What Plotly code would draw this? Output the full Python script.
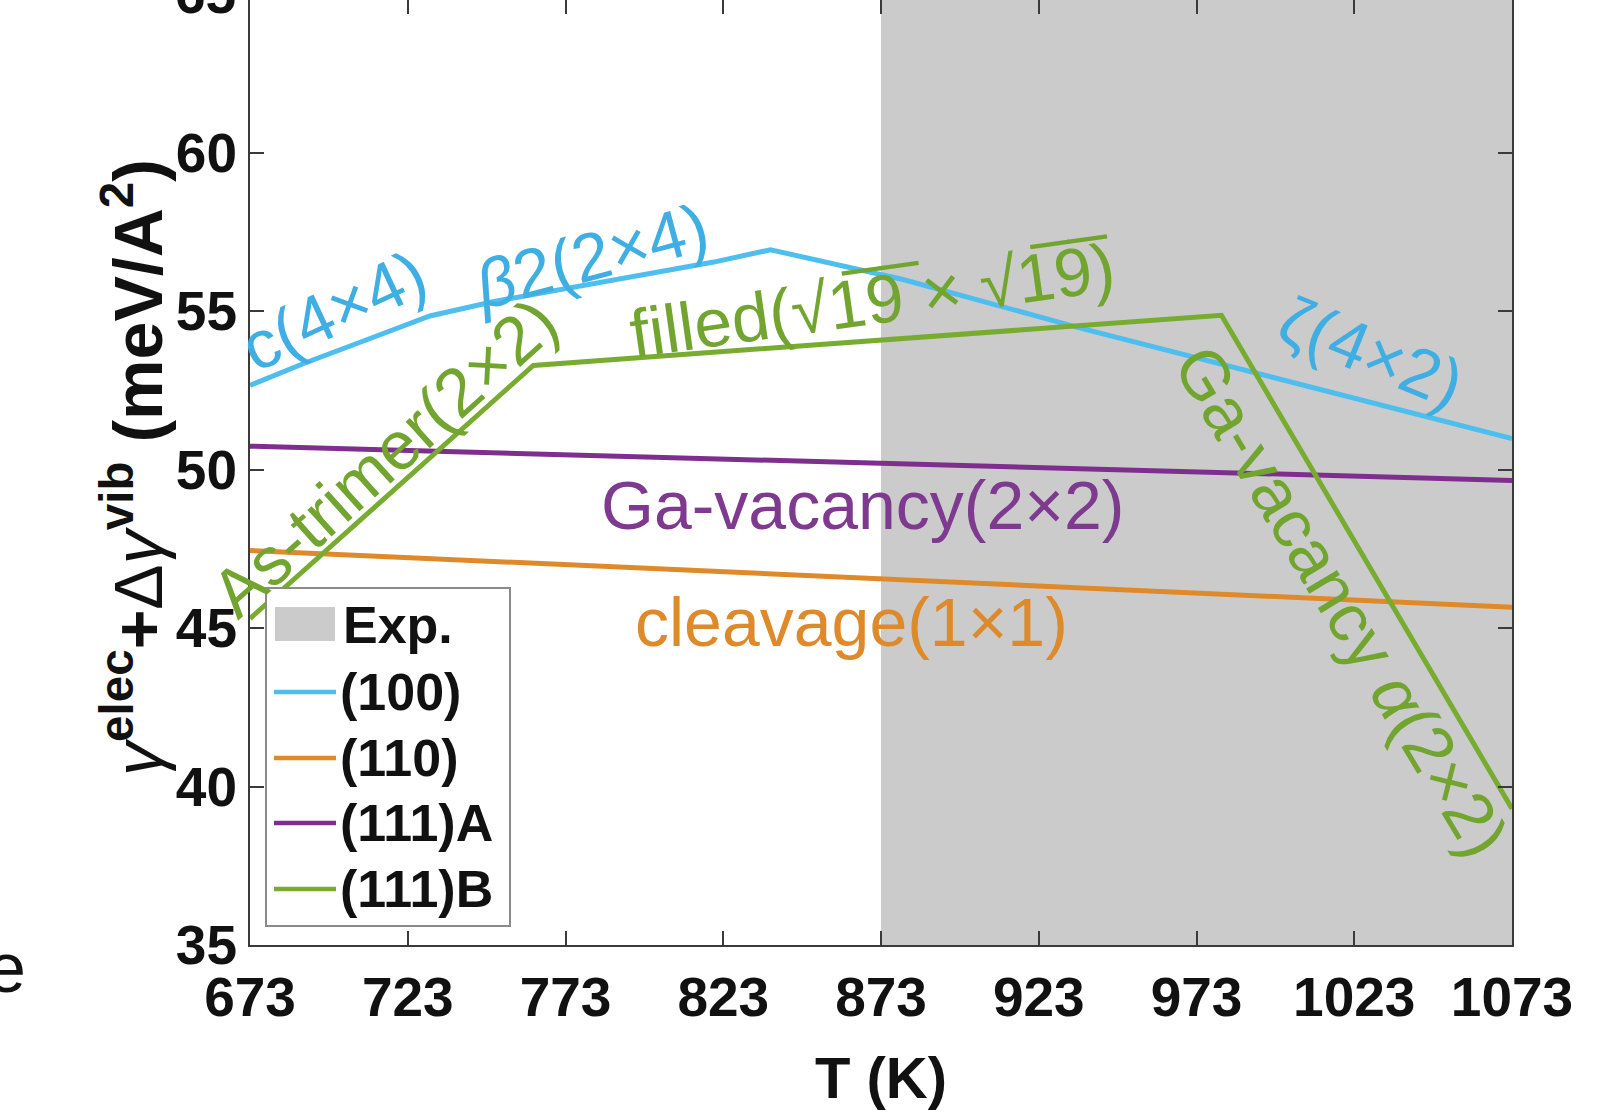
import plotly.graph_objects as go

# ---------------- data ----------------
T_100 = [673, 690, 710, 730, 750, 775, 800, 820, 838, 880, 935, 1073]
G_100 = [52.66, 53.35, 54.1, 54.85, 55.3, 55.75, 56.2, 56.55, 56.94, 56.0, 54.5, 50.98]

T_110 = [673, 1073]
G_110 = [47.45, 45.66]

T_111A = [673, 1073]
G_111A = [50.74, 49.66]

T_111B = [673, 762.8, 980.9, 1073]
G_111B = [45.3, 53.29, 54.87, 39.3]

EXP_RANGE = [873, 1073]

X_TICKS = [673, 723, 773, 823, 873, 923, 973, 1023, 1073]
Y_TICKS = [35, 40, 45, 50, 55, 60]

SERIES_NAMES = ["(100)", "(110)", "(111)A", "(111)B"]
EXP_NAME = "Exp."

# surface reconstruction labels: text, T, gamma, angle, series index
LABELS = [
    ("c(4×4)", 699.6, 55.05, -25, 0),
    ("<i>β</i>2(2×4)", 781.0, 56.75, -15, 0),
    ("ζ(4×2)", 1028.6, 53.7, 22, 0),
    ("cleavage(1×1)", 863.6, 45.2, 0, 1),
    ("Ga-vacancy(2×2)", 867.2, 48.9, 0, 2),
    ("As-trimer(2×2)", 715.5, 50.4, -42, 3),
    ("filled(√1̅9̅ × √1̅9̅)", 870.2, 55.35, -8, 3),
    ("Ga-vacancy <i>α</i>(2×2)", 1019.0, 45.85, 59, 3),
]

# ---------------- style ----------------
COLORS = ["#4DBEEE", "#DE8A2A", "#7E2F8E", "#77AC30"]
LABEL_COLORS = ["#3FAEE3", "#DE8A2A", "#7E3A8E", "#72A530"]
GRAY = "#CBCBCB"
AX = "#3a3a3a"
FONT = "Liberation Sans"

W, H = 1624, 1116
L, R, B, Tm = 250, 112, 171, 0
PW, PH = W - L - R, H - B - Tm


def px2paper(px, py):
    return (px - L) / PW, (H - B - py) / PH


fig = go.Figure()

xs = [T_100, T_110, T_111A, T_111B]
ys = [G_100, G_110, G_111A, G_111B]
for name, x, y, c in zip(SERIES_NAMES, xs, ys, COLORS):
    fig.add_trace(go.Scatter(x=x, y=y, mode="lines", name=name,
                             line=dict(color=c, width=5), showlegend=False))

# experimental range
fig.add_shape(type="rect", xref="x", yref="paper", x0=EXP_RANGE[0], x1=EXP_RANGE[1],
              y0=0, y1=1, fillcolor=GRAY, line=dict(width=0), layer="below")

# labels on the curves
for text, tx, ty, ang, si in LABELS:
    fig.add_annotation(x=tx, y=ty, xref="x", yref="y", text=text, showarrow=False,
                       textangle=ang, xanchor="center", yanchor="middle",
                       font=dict(family=FONT, size=68, color=LABEL_COLORS[si]))

# ---------- manual legend ----------
bx0, by0 = px2paper(266, 926)
bx1, by1 = px2paper(510, 588)
fig.add_shape(type="rect", xref="paper", yref="paper", x0=bx0, y0=by0, x1=bx1, y1=by1,
              fillcolor="white", line=dict(color="#8a8a8a", width=2), layer="above")
rows = [625, 692, 758, 823, 889]
px0, py0 = px2paper(275, 641)
px1, py1 = px2paper(335, 607)
fig.add_shape(type="rect", xref="paper", yref="paper", x0=px0, y0=py0, x1=px1, y1=py1,
              fillcolor=GRAY, line=dict(width=0), layer="above")
tx, ty = px2paper(341, rows[0])
fig.add_annotation(xref="paper", yref="paper", x=tx, y=ty, text="<b>%s</b>" % EXP_NAME,
                   showarrow=False, xanchor="left", yanchor="middle",
                   font=dict(family=FONT, size=52, color="#111"))
for i, (name, c) in enumerate(zip(SERIES_NAMES, COLORS)):
    ry = rows[i + 1]
    lx0, ly = px2paper(274, ry)
    lx1, _ = px2paper(336, ry)
    fig.add_shape(type="line", xref="paper", yref="paper", x0=lx0, x1=lx1, y0=ly, y1=ly,
                  line=dict(color=c, width=4.5), layer="above")
    tx, ty = px2paper(338, ry)
    fig.add_annotation(xref="paper", yref="paper", x=tx, y=ty, text="<b>%s</b>" % name,
                       showarrow=False, xanchor="left", yanchor="middle",
                       font=dict(family=FONT, size=52, color="#111"))

# y-axis title
yx, yy = px2paper(133, 468)
fig.add_annotation(xref="paper", yref="paper", x=yx, y=yy, textangle=-90, showarrow=False,
                   xanchor="center", yanchor="middle",
                   text="<i>γ</i><sup><b>elec</b></sup><b>+</b>Δ<i>γ</i><sup><b>vib</b></sup> <b>(meV/A<sup>2</sup>)</b>",
                   font=dict(family=FONT, size=68, color="#111"))

# x-axis title
xx, xy = px2paper(881, 1077)
fig.add_annotation(xref="paper", yref="paper", x=xx, y=xy, showarrow=False,
                   xanchor="center", yanchor="middle", text="<b>T (K)</b>",
                   font=dict(family=FONT, size=58, color="#111"))

# cut-off top tick label and stray letter from neighbouring text
fx, fy = px2paper(238, -6)
fig.add_annotation(xref="paper", yref="paper", x=fx, y=fy, text="<b>65</b>", showarrow=False,
                   xanchor="right", yanchor="middle",
                   font=dict(family=FONT, size=55, color="#111"))
ex, ey = px2paper(28, 968)
fig.add_annotation(xref="paper", yref="paper", x=ex, y=ey, text="e", showarrow=False,
                   xanchor="right", yanchor="middle",
                   font=dict(family=FONT, size=70, color="#111"))

axis_common = dict(showline=True, mirror="ticks", linecolor=AX, linewidth=2,
                   ticks="inside", ticklen=14, tickwidth=2, tickcolor=AX,
                   showgrid=False, zeroline=False,
                   tickfont=dict(family=FONT, size=55, color="#111", weight="bold"))

fig.update_xaxes(range=[673, 1073], tickvals=X_TICKS, ticktext=[str(v) for v in X_TICKS],
                 ticklabelstandoff=3, **axis_common)
fig.update_yaxes(range=[35, 35 + PH / 31.69], tickvals=Y_TICKS,
                 ticktext=[str(v) for v in Y_TICKS], ticklabelstandoff=0, **axis_common)

fig.update_layout(width=W, height=H, margin=dict(l=L, r=R, t=Tm, b=B, autoexpand=False),
                  plot_bgcolor="white", paper_bgcolor="white", showlegend=False)

fig.write_html("out.html", config={"displayModeBar": False},
               post_script="document.body.style.margin='0';document.body.style.overflow='hidden';")
